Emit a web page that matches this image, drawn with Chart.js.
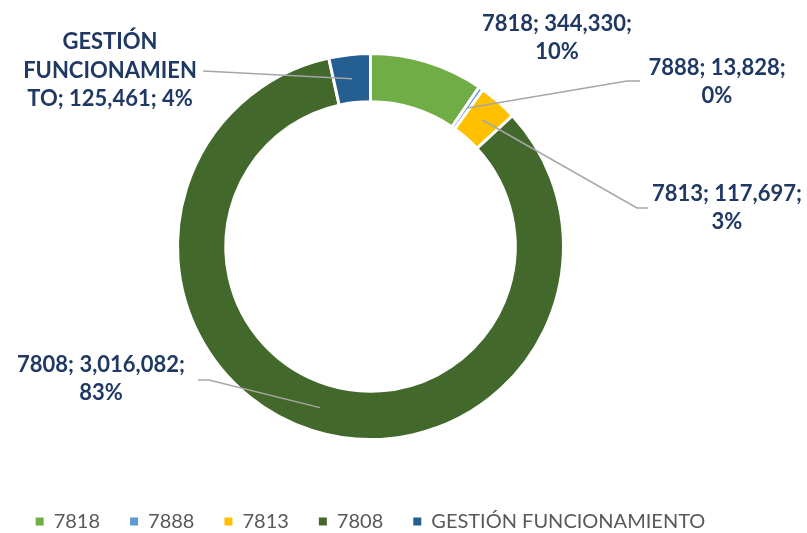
<!DOCTYPE html>
<html>
<head>
<meta charset="utf-8">
<script src="https://cdn.jsdelivr.net/npm/chart.js"></script>
<style>
  html, body { margin: 0; padding: 0; background: #fff; overflow: hidden; }
  #wrap { width: 807px; height: 533px; position: relative; }
</style>
</head>
<body>
<div id="wrap"><canvas id="chart"></canvas></div>
<script>
// chart data
const categories = ['7818', '7888', '7813', '7808', 'GESTIÓN FUNCIONAMIENTO'];
const amounts = [344330, 13828, 117697, 3016082, 125461];
const percentLabels = [10, 0, 3, 83, 4];

const sliceColors = ['#70ad47', '#5b9bd5', '#ffc000', '#43682b', '#255e91'];

function wrapText(ctx, text, maxWidth) {
  const lines = [];
  let line = '';
  for (const word of text.split(' ')) {
    const trial = line ? line + ' ' + word : word;
    if (ctx.measureText(trial).width <= maxWidth) { line = trial; continue; }
    if (line) lines.push(line);
    line = word;
    while (ctx.measureText(line).width > maxWidth) {
      let n = line.length - 1;
      while (n > 1 && ctx.measureText(line.slice(0, n)).width > maxWidth) n--;
      lines.push(line.slice(0, n));
      line = line.slice(n);
    }
  }
  if (line) lines.push(line);
  return lines;
}

// data labels with leader lines, placed relative to the doughnut centre
const calloutPlugin = {
  id: 'callouts',
  afterDatasetsDraw(chart, args, opts) {
    const ctx = chart.ctx;
    const area = chart.chartArea;
    const cx = (area.left + area.right) / 2;
    const cy = (area.top + area.bottom) / 2;
    const meta = chart.getDatasetMeta(0);
    const values = chart.data.datasets[0].data;
    ctx.save();
    ctx.font = 'bold ' + opts.size + 'px ' + opts.family;
    ctx.textAlign = 'center';
    ctx.textBaseline = 'middle';
    opts.items.forEach((item, i) => {
      const arc = meta.data[i];
      if (item.line) {
        const p = arc.tooltipPosition();
        ctx.beginPath();
        ctx.strokeStyle = opts.lineColor;
        ctx.lineWidth = 1.5;
        item.line.forEach((pt, k) => {
          if (k === 0) ctx.moveTo(cx + pt[0], cy + pt[1]);
          else ctx.lineTo(cx + pt[0], cy + pt[1]);
        });
        ctx.lineTo(p.x, p.y);
        ctx.stroke();
      }
      const text = chart.data.labels[i] + '; ' + values[i].toLocaleString('en-US') + '; ' + percentLabels[i] + '%';
      ctx.fillStyle = opts.color;
      wrapText(ctx, text, item.width).forEach((ln, k) => {
        ctx.fillText(ln, cx + item.x, cy + item.y + k * opts.lineHeight);
      });
    });
    ctx.restore();
  }
};

const data = {
  labels: categories,
  datasets: [{
    data: amounts,
    backgroundColor: sliceColors,
    borderColor: '#ffffff',
    borderWidth: 3,
    hoverOffset: 0,
    radius: 193,
    cutout: '75%'
  }]
};

const config = {
  type: 'doughnut',
  data: data,
  options: {
    responsive: true,
    maintainAspectRatio: false,
    animation: false,
    layout: {
      padding: {top: 11.5, bottom: -8.5, left: 0, right: 66}
    },
    plugins: {
      tooltip: {enabled: false},
      legend: {
        display: true,
        position: 'bottom',
        labels: {
          boxWidth: 8,
          boxHeight: 8,
          padding: 30,
          color: '#595959',
          font: {family: 'Lato', size: 20},
          generateLabels(chart) {
            const items = Chart.overrides.doughnut.plugins.legend.labels.generateLabels(chart);
            items.forEach(it => { it.lineWidth = 0; it.strokeStyle = 'rgba(0,0,0,0)'; });
            return items;
          }
        }
      },
      callouts: {
        family: 'Lato',
        size: 22,
        lineHeight: 28.7,
        color: '#1f3864',
        lineColor: '#a6a6a6',
        items: [
          {x: 186.5, y: -223, width: 170},
          {x: 346.5, y: -179, width: 150, line: [[269.5, -165.5], [256.5, -165.5]]},
          {x: 356.5, y: -53, width: 170, line: [[277.5, -38.5], [266.5, -38.5]]},
          {x: -269.5, y: 118, width: 190, line: [[-172.5, 133.5], [-161.5, 133.5]]},
          {x: -260.5, y: -204.5, width: 175, line: [[-167.5, -175.5]]}
        ]
      }
    }
  },
  plugins: [calloutPlugin]
};

const myChart = new Chart(document.getElementById('chart'), config);
</script>
</body>
</html>
